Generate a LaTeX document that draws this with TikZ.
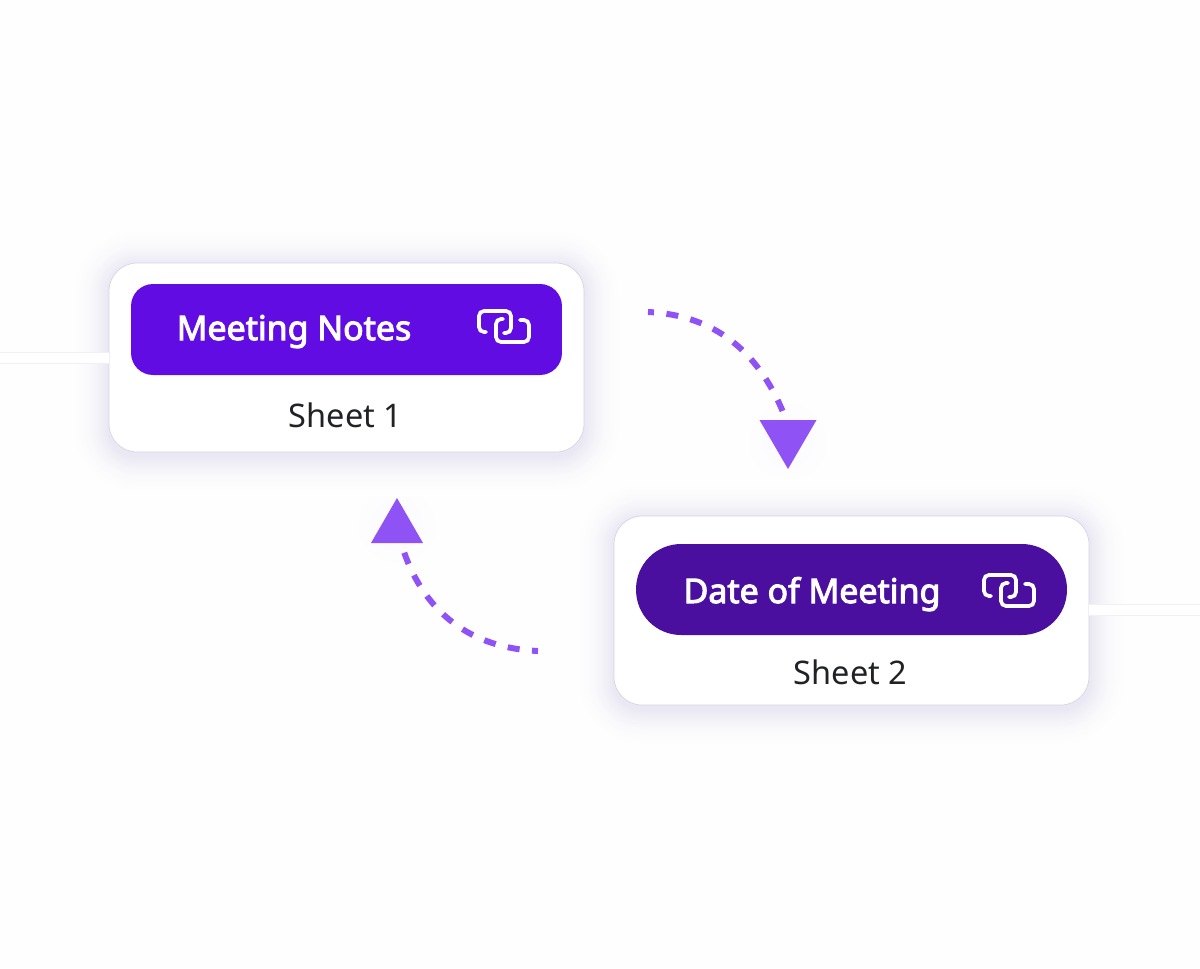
\documentclass[tikz,border=0pt]{standalone}
\usepackage{fontspec}
\setmainfont{Noto Sans}
\newfontfamily\pillfont{Noto Sans}[FakeBold=3]
\usetikzlibrary{positioning, arrows.meta, calc, shapes.geometric}

\definecolor{pagebg}{HTML}{FEFEFE}
\definecolor{cardline}{HTML}{D9D4E6}
\definecolor{shadowtone}{HTML}{E8E5F1}
\definecolor{halotone}{HTML}{FAF9FE}
\definecolor{notesfill}{HTML}{620CE4}
\definecolor{datefill}{HTML}{4A0F9F}
\definecolor{tipfill}{HTML}{8F52F5}
\definecolor{sheettext}{HTML}{202225}

\tikzset{
    card/.style={draw=cardline, line width=0.4pt, fill=white, rounded corners=0.56cm, minimum width=9.5cm, minimum height=3.78cm, inner sep=0pt},
    pill/.style={fill=#1, minimum width=8.62cm, minimum height=1.82cm, inner sep=0pt},
    pilltext/.style={text=white, font=\pillfont\fontsize{19.3}{23}\selectfont, inner sep=0pt, anchor=base},
    sheetlabel/.style={text=sheettext, font=\fontsize{18.5}{23}\selectfont, inner sep=0pt, anchor=base},
    tip/.style={isosceles triangle, isosceles triangle stretches, fill=tipfill, inner sep=0pt, outer sep=0pt, anchor=apex},
    flow/.style={draw=tipfill, line width=3.4pt, dash pattern=on 0.24cm off 0.25cm, dash phase=0.12cm},
    sidelink/.style={draw=cardline!35!white, line width=0.3pt, double=white, double distance=0.2cm},
    linkicon/.pic={
        \draw[white, line width=2.1pt, rounded corners=0.1cm, line cap=round]
            (-18,5) -- (-25,5) -- (-25,-16) -- (7,-16) -- (7,6) -- (0,6);
        \draw[white, line width=2.1pt, rounded corners=0.1cm, line cap=round]
            (16,-7) -- (25,-7) -- (25,15) -- (-8,15) -- (-8,-8) -- (-1,-8);
    }
}

\begin{document}
\begin{tikzpicture}[x=0.02cm, y=-0.02cm]
    \fill[pagebg] (0,0) rectangle (1200,968);
    \useasboundingbox (0,0) rectangle (1200,968);

    % soft glow round the tips
    \foreach \r [evaluate=\r as \p using 100*(1-\r/42)] in {42,38,...,14} {
        \fill[halotone!\p!pagebg] (788,442) circle (\r);
        \fill[halotone!\p!pagebg] (397,525) circle (\r);
    }

    % soft shadows
    \foreach \r [evaluate=\r as \rc using 0.56+0.02*\r, evaluate=\r as \p using 100*(1-\r/40)^2] in {40,38,...,2} {
        \fill[shadowtone!\p!pagebg, rounded corners=\rc cm] ({109-\r},{266-\r}) rectangle ({584+\r},{456+\r});
        \fill[shadowtone!\p!pagebg, rounded corners=\rc cm] ({614-\r},{519-\r}) rectangle ({1089+\r},{709+\r});
    }

    % first sheet
    \node[card] (sheetone) at (346.5,357.5) {};
    \node[pill=notesfill, rounded corners=0.44cm] (notes) at (346.5,329.5) {};
    \node[pilltext] (notestext) at (294,340) {Meeting Notes};
    \node[sheetlabel] (sheetonetext) at (345.5,427.5) {Sheet 1};
    \pic at (504,327) {linkicon};

    % second sheet
    \node[card] (sheettwo) at (851.5,610.5) {};
    \node[pill=datefill, rounded corners=0.9cm] (date) at (851.5,589.5) {};
    \node[pilltext] (datetext) at (812,603) {Date of Meeting};
    \node[sheetlabel] (sheettwotext) at (850.5,684.5) {Sheet 2};
    \pic at (1009,591) {linkicon};

    % side links
    \coordinate (linkleft) at (0,358);
    \coordinate (linkright) at (1200,610);
    \draw[sidelink] (linkleft) -- (sheetone.west |- linkleft);
    \draw[sidelink] (sheettwo.east |- linkright) -- (linkright);

    % arrows between the sheets
    \node[tip, shape border rotate=-90, minimum height=0.98cm, minimum width=1.14cm] (tipdown) at (788,469) {};
    \node[tip, shape border rotate=90, minimum height=0.9cm, minimum width=1.04cm] (tipup) at (397,498) {};
    \coordinate (flowonestart) at (648,312);
    \coordinate (flowtwostart) at (538,651);
    \draw[flow] (flowonestart) .. controls (715,315) and (758,352) .. ($(tipdown.lower side)+(-5,-8)$);
    \draw[flow] (flowtwostart) .. controls (470,648) and (425,612) .. ($(tipup.lower side)+(7,9)$);
\end{tikzpicture}
\end{document}
